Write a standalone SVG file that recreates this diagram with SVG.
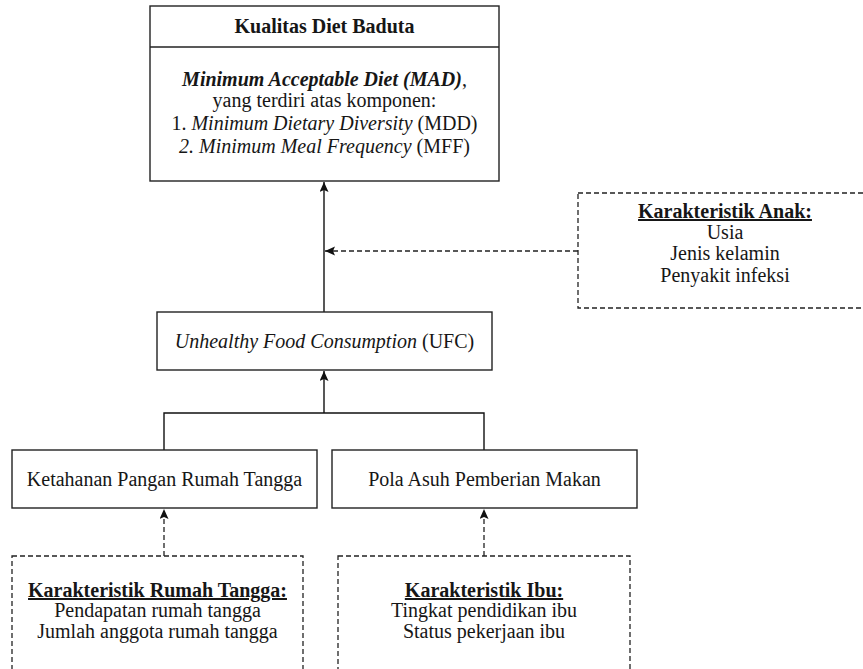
<svg xmlns="http://www.w3.org/2000/svg" width="863" height="669" viewBox="0 0 863 669">
<defs>
<style>
.box{fill:#fff;stroke:#222;stroke-width:1.4}
.dbox{fill:#fff;stroke:#222;stroke-width:1.3;stroke-dasharray:5 3}
.t{font-family:"Liberation Serif","Times New Roman",serif;font-size:20px;fill:#161616;text-anchor:middle}
.b{font-weight:bold}
.i{font-style:italic}
.u{text-decoration:underline}
.ln{fill:none;stroke:#111;stroke-width:1.4}
.dl{fill:none;stroke:#222;stroke-width:1.3;stroke-dasharray:5 3}
</style>
<marker id="ah" markerUnits="userSpaceOnUse" markerWidth="10" markerHeight="10" refX="10" refY="4.5" orient="auto">
<path d="M0,0 L10,4.5 L0,9 L2,4.5 z" fill="#111"/>
</marker>
</defs>
<g id="connectors">
<path class="ln" d="M324,312 L324,182" marker-end="url(#ah)"/>
<path class="dl" d="M578,251 L325,251" marker-end="url(#ah)"/>
<path class="ln" d="M324,413 L324,371" marker-end="url(#ah)"/>
<path class="ln" d="M164,450 L164,413 L484,413 L484,450"/>
<path class="dl" d="M164,556 L164,509" marker-end="url(#ah)"/>
<path class="dl" d="M484,556 L484,509" marker-end="url(#ah)"/>
</g>
<g id="kualitas">
<rect class="box" x="150" y="6" width="349" height="175"/>
<line x1="150" y1="47" x2="499" y2="47" stroke="#222" stroke-width="1.4"/>
<text class="t b" x="324.5" y="33">Kualitas Diet Baduta</text>
<text class="t" x="324.5" y="86"><tspan class="b i">Minimum Acceptable Diet (MAD)</tspan>,</text>
<text class="t" x="324.5" y="107">yang terdiri atas komponen:</text>
<text class="t" x="324.5" y="130">1. <tspan class="i">Minimum Dietary Diversity</tspan> (MDD)</text>
<text class="t" x="324.5" y="153"><tspan class="i">2. Minimum Meal Frequency</tspan> (MFF)</text>
</g>
<g id="anak">
<rect class="dbox" x="578" y="193" width="300" height="115"/>
<text class="t b u" x="725" y="218">Karakteristik Anak:</text>
<text class="t" x="725" y="239">Usia</text>
<text class="t" x="725" y="260">Jenis kelamin</text>
<text class="t" x="725" y="282">Penyakit infeksi</text>
</g>
<g id="ufc">
<rect class="box" x="157" y="312" width="335" height="58"/>
<text class="t" x="324.5" y="348"><tspan class="i">Unhealthy Food Consumption</tspan> (UFC)</text>
</g>
<g id="ketahanan">
<rect class="box" x="12" y="450" width="305" height="58"/>
<text class="t" x="164.5" y="486">Ketahanan Pangan Rumah Tangga</text>
</g>
<g id="pola">
<rect class="box" x="332" y="450" width="305" height="58"/>
<text class="t" x="484.5" y="486">Pola Asuh Pemberian Makan</text>
</g>
<g id="rumahtangga">
<rect class="dbox" x="12" y="556" width="291" height="130"/>
<text class="t b u" x="157.5" y="597">Karakteristik Rumah Tangga:</text>
<text class="t" x="157.5" y="617">Pendapatan rumah tangga</text>
<text class="t" x="157.5" y="638">Jumlah anggota rumah tangga</text>
</g>
<g id="ibu">
<rect class="dbox" x="338" y="556" width="292" height="130"/>
<text class="t b u" x="484" y="597">Karakteristik Ibu:</text>
<text class="t" x="484" y="617">Tingkat pendidikan ibu</text>
<text class="t" x="484" y="638">Status pekerjaan ibu</text>
</g>
</svg>
